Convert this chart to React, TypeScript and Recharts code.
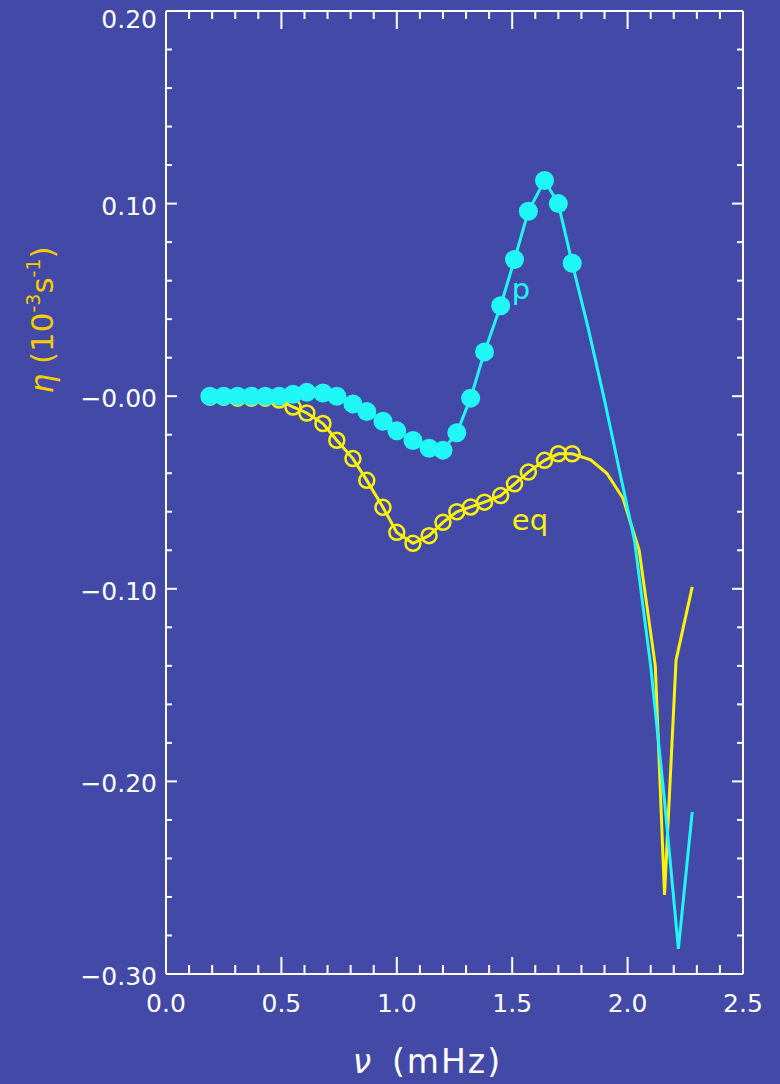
import { LineChart, Line, XAxis, YAxis, ReferenceDot, ReferenceLine, Label } from 'recharts'

// frequency grid shared by the marked points of both curves (mHz)
const nuGrid = [0.19, 0.25, 0.31, 0.37, 0.43, 0.49, 0.55, 0.61, 0.68, 0.74, 0.81, 0.87, 0.94, 1.0, 1.07, 1.14, 1.2, 1.26, 1.32, 1.38, 1.45, 1.51, 1.57, 1.64, 1.7, 1.76]

// p modes (filled cyan dots)
const pEta = [0, 0, 0, 0, 0, 0, 0.001, 0.002, 0.0017, 0, -0.004, -0.008, -0.013, -0.018, -0.023, -0.027, -0.028, -0.019, -0.001, 0.023, 0.047, 0.071, 0.096, 0.112, 0.1, 0.069]
const pTailNu = [1.83, 1.9, 1.96, 2.03, 2.1, 2.16, 2.22, 2.28]
const pTailEta = [0.035, -0.002, -0.036, -0.075, -0.14, -0.21, -0.287, -0.216]

// eq (open yellow circles)
const eqEta = [-0.0005, -0.0005, -0.001, -0.001, -0.001, -0.002, -0.0056, -0.0087, -0.0142, -0.0229, -0.0324, -0.0437, -0.0577, -0.0707, -0.0764, -0.0724, -0.0655, -0.06, -0.0575, -0.055, -0.0516, -0.0455, -0.0394, -0.0333, -0.0299, -0.0299]
const eqTailNu = [1.84, 1.91, 1.98, 2.05, 2.12, 2.16, 2.21, 2.28]
const eqTailEta = [-0.033, -0.04, -0.053, -0.08, -0.14, -0.259, -0.137, -0.099]

const xMajorTicks = [0, 0.5, 1, 1.5, 2, 2.5]
const xTickLabels = ['0.0', '0.5', '1.0', '1.5', '2.0', '2.5']
const yMajorTicks = [0.2, 0.1, 0, -0.1, -0.2, -0.3]
const yTickLabels = ['0.20', '0.10', '\u22120.00', '\u22120.10', '\u22120.20', '\u22120.30']

const xTicks = Array.from({ length: 26 }, (_, i) => +(i * 0.1).toFixed(2))
const yTicks = Array.from({ length: 26 }, (_, i) => +(-0.3 + i * 0.02).toFixed(2))

const nMarked = nuGrid.length
const pData = nuGrid.map((nu, i) => ({ nu, eta: pEta[i] })).concat(pTailNu.map((nu, i) => ({ nu, eta: pTailEta[i] })))
const eqData = nuGrid.map((nu, i) => ({ nu, eta: eqEta[i] })).concat(eqTailNu.map((nu, i) => ({ nu, eta: eqTailEta[i] })))

const BG = '#4349a7'
const CYAN = '#22f7f7'
const YELLOW = '#fbf20a'
const GOLD = '#f6cc00'
const FONT = 'DejaVu Sans'

// layout
const W = 780
const H = 1084
const PLOT_TOP = 11

const majorIndex = (list: number[], v: number) => list.findIndex(m => Math.abs(m - v) < 1e-6)

// bottom tick also draws its twin hanging from the top frame
const BottomTick = ({ x, y, payload }: any) => {
  const idx = majorIndex(xMajorTicks, payload.value)
  const major = idx >= 0
  return (
    <g>
      <line x1={x} y1={y} x2={x} y2={y - (major ? 17 : 9)} stroke="#fff" strokeWidth={2} />
      <line x1={x} y1={PLOT_TOP + (major ? 18 : 8)} x2={x} y2={PLOT_TOP} stroke="#fff" strokeWidth={2} />
      {major && (
        <text x={x} y={y + 38} textAnchor="middle" fill="#fff" fontSize={25} fontFamily={FONT}>
          {xTickLabels[idx]}
        </text>
      )}
    </g>
  )
}

const LeftTick = ({ x, y, payload }: any) => {
  const idx = majorIndex(yMajorTicks, payload.value)
  return (
    <g>
      <line x1={x} y1={y} x2={x + (idx >= 0 ? 11 : 6)} y2={y} stroke="#fff" strokeWidth={2} />
      {idx >= 0 && (
        <text x={x - 9} y={Math.max(y + 2, 19) + 9} textAnchor="end" fill="#fff" fontSize={25} fontFamily={FONT}>
          {yTickLabels[idx]}
        </text>
      )}
    </g>
  )
}

const RightTick = ({ x, y, payload }: any) => {
  const idx = majorIndex(yMajorTicks, payload.value)
  return <line x1={x} y1={y} x2={x - (idx >= 0 ? 11 : 6)} y2={y} stroke="#fff" strokeWidth={2} />
}

const pDot = (props: any) => {
  const { cx, cy, index } = props
  if (index >= nMarked) return <g key={`p${index}`} />
  return <circle key={`p${index}`} cx={cx} cy={cy} r={9.5} fill={CYAN} />
}

const eqDot = (props: any) => {
  const { cx, cy, index } = props
  if (index >= nMarked) return <g key={`e${index}`} />
  return <circle key={`e${index}`} cx={cx} cy={cy} r={7.5} fill="none" stroke={YELLOW} strokeWidth={2.5} />
}

const YTitle = ({ viewBox }: any) => {
  const cx = viewBox.x + 53
  const cy = 320
  return (
    <text x={cx} y={cy} transform={`rotate(-90 ${cx} ${cy})`} textAnchor="middle" fill={GOLD} fontSize={31} fontFamily={FONT}>
      <tspan fontStyle="italic">η</tspan>
      <tspan> (10</tspan>
      <tspan dy={-13} fontSize={19}>-3</tspan>
      <tspan dy={13}>s</tspan>
      <tspan dy={-13} fontSize={19}>-1</tspan>
      <tspan dy={13}>)</tspan>
    </text>
  )
}

const XTitle = ({ viewBox }: any) => {
  const base = viewBox.y + 99
  return (
    <g fill="#fff" fontFamily={FONT} fontSize={33}>
      <text x={viewBox.x + 196} y={base} textAnchor="middle" fontStyle="italic">ν</text>
      <text x={viewBox.x + 226} y={base} textAnchor="start" letterSpacing={2}>(mHz)</text>
    </g>
  )
}

const textShape = (txt: string, color: string) => (props: any) => (
  <text x={props.cx} y={props.cy} textAnchor="middle" fill={color} fontSize={29} fontFamily={FONT}>
    {txt}
  </text>
)

export default function App() {
  return (
    <div style={{ position: 'absolute', left: 0, top: 0, width: W, height: H, background: BG }}>
      <LineChart width={W} height={H} margin={{ top: PLOT_TOP, right: 36, bottom: 0, left: 0 }}>
        <XAxis
          dataKey="nu"
          type="number"
          domain={[0, 2.5]}
          ticks={xTicks}
          interval={0}
          tickSize={0}
          tickMargin={0}
          tick={<BottomTick />}
          tickLine={false}
          axisLine={{ stroke: '#fff', strokeWidth: 2 }}
          height={110}
          allowDataOverflow
        >
          <Label content={<XTitle />} />
        </XAxis>
        <YAxis
          type="number"
          domain={[-0.3, 0.2]}
          ticks={yTicks}
          interval={0}
          tickSize={0}
          tickMargin={0}
          tick={<LeftTick />}
          tickLine={false}
          axisLine={{ stroke: '#fff', strokeWidth: 2 }}
          width={166}
          allowDataOverflow
        >
          <Label content={<YTitle />} />
        </YAxis>
        <YAxis
          yAxisId="right"
          orientation="right"
          type="number"
          domain={[-0.3, 0.2]}
          ticks={yTicks}
          interval={0}
          tickSize={0}
          tickMargin={0}
          tick={<RightTick />}
          tickLine={false}
          axisLine={{ stroke: '#fff', strokeWidth: 2 }}
          width={1}
          allowDataOverflow
        />
        <ReferenceLine y={0.2} stroke="#fff" strokeWidth={2} ifOverflow="visible" />
        <Line
          data={eqData}
          dataKey="eta"
          type="linear"
          stroke={YELLOW}
          strokeWidth={3}
          dot={eqDot}
          activeDot={false}
          isAnimationActive={false}
        />
        <Line
          data={pData}
          dataKey="eta"
          type="linear"
          stroke={CYAN}
          strokeWidth={3}
          dot={pDot}
          activeDot={false}
          isAnimationActive={false}
        />
        <ReferenceDot x={1.538} y={0.0504} r={0} shape={textShape('p', CYAN)} />
        <ReferenceDot x={1.577} y={-0.0696} r={0} shape={textShape('eq', YELLOW)} />
      </LineChart>
    </div>
  )
}
